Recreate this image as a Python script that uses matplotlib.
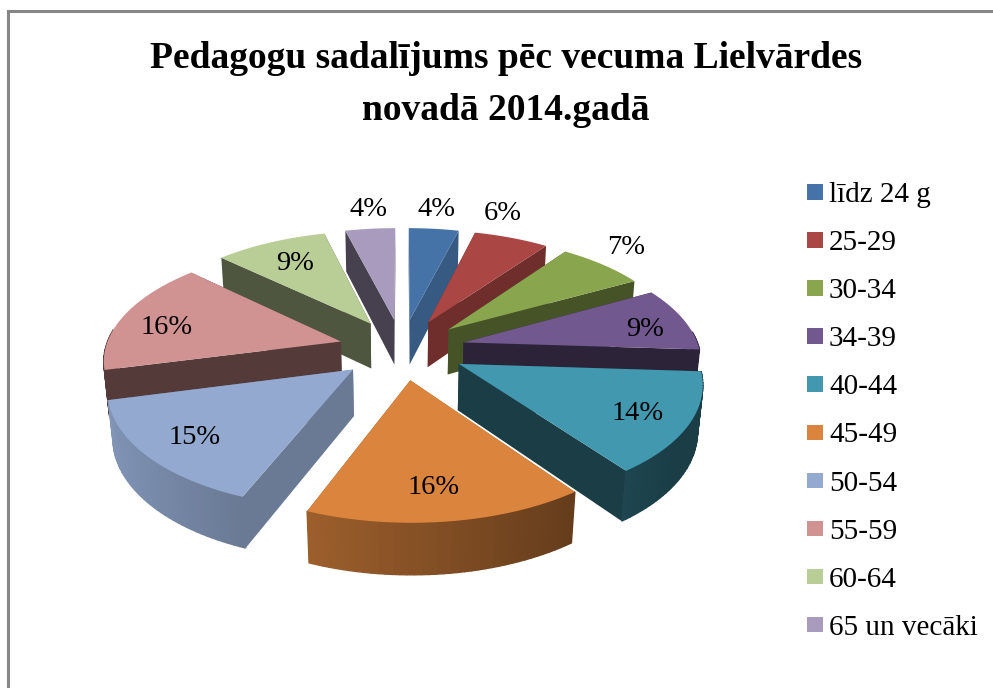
import numpy as np
import matplotlib
matplotlib.use('Agg')
import matplotlib.pyplot as plt
from matplotlib.patches import Polygon, Rectangle

title_lines = ['Pedagogu sadalījums pēc vecuma Lielvārdes', 'novadā 2014.gadā']
categories = ['līdz 24 g', '25-29', '30-34', '34-39', '40-44',
              '45-49', '50-54', '55-59', '60-64', '65 un vecāki']
values = [4, 6, 7, 9, 14, 16, 15, 16, 9, 4]
colors = ['#4573A7', '#AA4643', '#89A54E', '#71588F', '#4198AF',
          '#DB843D', '#93A9CF', '#D19392', '#B9CD96', '#A99BBD']
wall_shade = [0.78, 0.65, 0.5, 0.4, 0.4, 0.62, 0.72, 0.4, 0.42, 0.42]
# pixel centres of the percent labels
label_pos = [(436, 209), (503, 213), (626, 248), (645, 330), (638, 413),
             (434, 488), (195, 438), (167, 328), (295, 263), (368, 210)]

plt.rcParams['font.family'] = ['Liberation Serif', 'DejaVu Serif']

# camera
cx, cy = 402, 349
f, d = 1461.0, 6.2
elev = np.radians(28.5)
explode = 0.27
height = 0.225


def project(x, y, z):
    depth = d + y * np.cos(elev) - z * np.sin(elev)
    up = y * np.sin(elev) + z * np.cos(elev)
    return cx + f * x / depth, cy - f * up / depth


def shade(col, k):
    rgb = np.array(matplotlib.colors.to_rgb(col))
    return tuple(np.clip(rgb * k, 0, 1))


fig = plt.figure(figsize=(9.93, 6.88), dpi=100)
ax = fig.add_axes([0, 0, 1, 1])
ax.set_xlim(0, 993)
ax.set_ylim(688, 0)
ax.axis('off')

ax.add_patch(Rectangle((8, 11), 1100, 800, fc='white', ec='#868686', lw=2.2))

ax.text(506, 59, title_lines[0], ha='center', va='center', fontsize=27, fontweight='bold')
ax.text(506, 110, title_lines[1], ha='center', va='center', fontsize=27, fontweight='bold')

edges = np.cumsum([0] + values) / sum(values) * 2 * np.pi
slices = []
for i in range(len(values)):
    a0, a1 = edges[i], edges[i + 1]
    mid = (a0 + a1) / 2
    slices.append((i, a0, a1, mid, np.sin(mid) * explode, np.cos(mid) * explode))
# paint from the back of the pie to the front
slices.sort(key=lambda s: -s[5])

for i, a0, a1, mid, ox, oy in slices:
    col = colors[i]
    th = np.linspace(a0, a1, 40)
    xs = ox + np.sin(th)
    ys = oy + np.cos(th)

    # radial walls
    for a in (a0, a1):
        ex, ey = ox + np.sin(a), oy + np.cos(a)
        quad = [project(ox, oy, 0), project(ex, ey, 0),
                project(ex, ey, -height), project(ox, oy, -height)]
        ax.add_patch(Polygon(quad, fc=shade(col, wall_shade[i]), ec='none'))

    # outer wall, darker towards the right; only the part facing the camera
    for j in range(len(th) - 1):
        if np.cos(th[j]) > 0.1:
            continue
        quad = [project(xs[j], ys[j], 0), project(xs[j + 1], ys[j + 1], 0),
                project(xs[j + 1], ys[j + 1], -height), project(xs[j], ys[j], -height)]
        k = max(0.4, 0.62 - 0.27 * np.sin(th[j]))
        if np.cos(mid) > 0:
            k = wall_shade[i]
        ax.add_patch(Polygon(quad, fc=shade(col, k), ec=shade(col, k), lw=1.0))

    # top face
    top = [project(ox, oy, 0)] + [project(x, y, 0) for x, y in zip(xs, ys)]
    ax.add_patch(Polygon(top, fc=col, ec='none'))

for v, (lx, ly) in zip(values, label_pos):
    ax.text(lx, ly, '%d%%' % v, ha='center', va='center', fontsize=20.5, color='black', zorder=50)

for i, (name, col) in enumerate(zip(categories, colors)):
    y = 192 + i * 48.1
    ax.add_patch(Rectangle((807, y - 8), 15.5, 15.5, fc=col, ec='none'))
    ax.text(829, y + 3, name, ha='left', va='center', fontsize=21, color='black')

fig.savefig('out.png', dpi=100)
